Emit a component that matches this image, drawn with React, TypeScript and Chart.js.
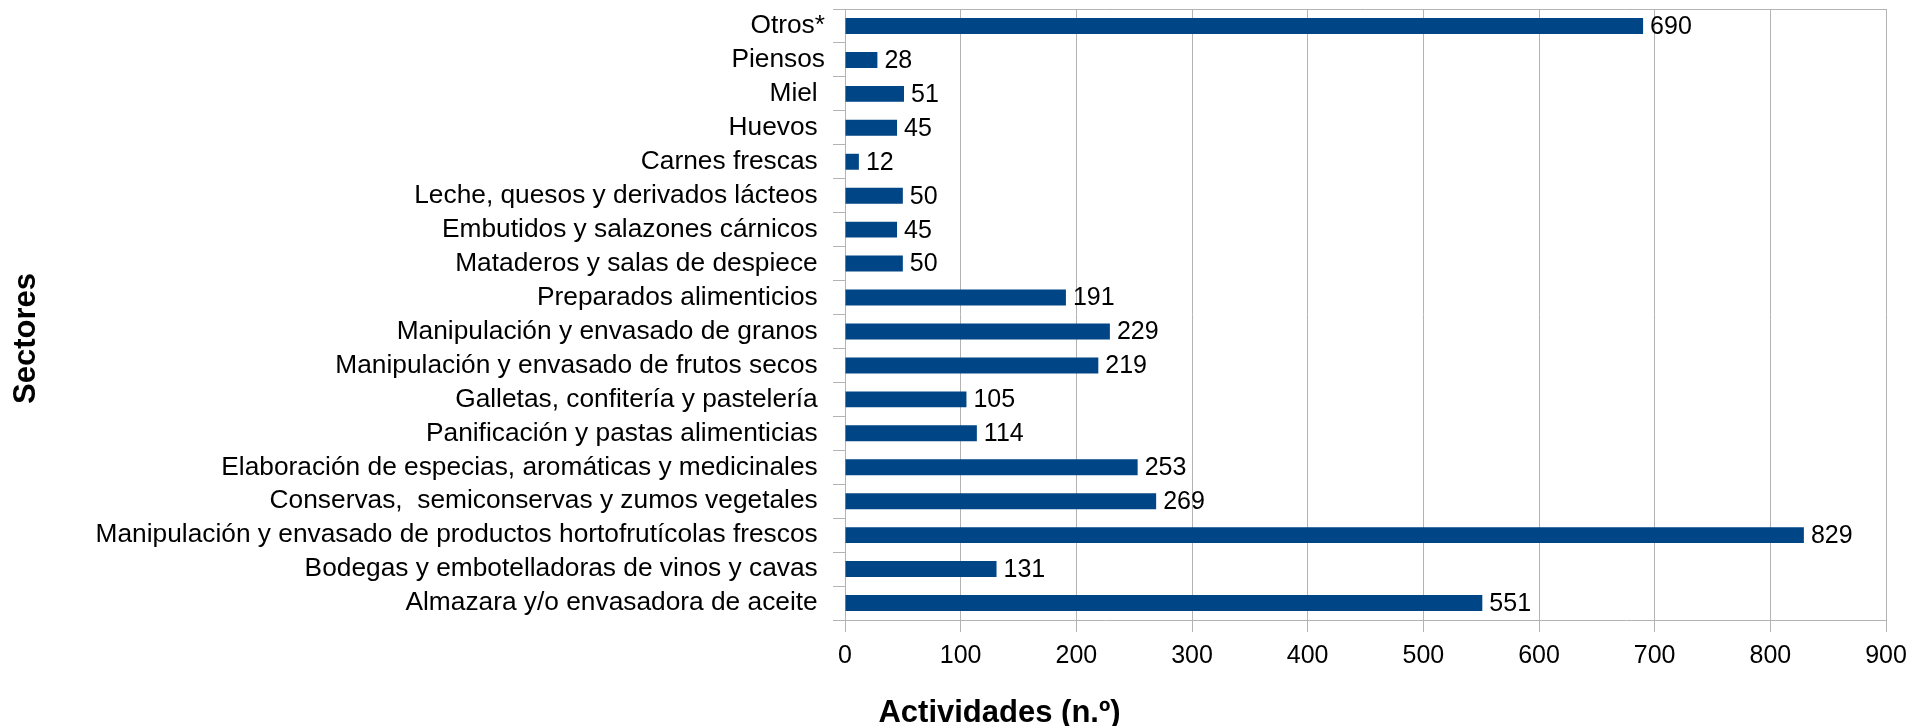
import React, { useEffect, useRef } from "react";
import { Chart, registerables } from "chart.js";

Chart.register(...registerables);

const categories = [
  "Otros*",
  "Piensos",
  "Miel ",
  "Huevos ",
  "Carnes frescas ",
  "Leche, quesos y derivados lácteos ",
  "Embutidos y salazones cárnicos ",
  "Mataderos y salas de despiece ",
  "Preparados alimenticios ",
  "Manipulación y envasado de granos ",
  "Manipulación y envasado de frutos secos ",
  "Galletas, confitería y pastelería ",
  "Panificación y pastas alimenticias ",
  "Elaboración de especias, aromáticas y medicinales ",
  "Conservas,  semiconservas y zumos vegetales ",
  "Manipulación y envasado de productos hortofrutícolas frescos ",
  "Bodegas y embotelladoras de vinos y cavas ",
  "Almazara y/o envasadora de aceite ",
];

const values = [690, 28, 51, 45, 12, 50, 45, 50, 191, 229, 219, 105, 114, 253, 269, 829, 131, 551];

const xMin = 0;
const xMax = 900;
const xStep = 100;

const xTitle = "Actividades (n.º)";
const yTitle = "Sectores";

const FONT = "'Liberation Sans', Arial, sans-serif";
const GRID = "#b3b3b3";
const BAR = "#004586";

export default function App() {
  const ref = useRef<HTMLCanvasElement | null>(null);

  useEffect(() => {
    document.body.style.margin = "0";
    const canvas = ref.current;
    if (!canvas) return;

    const extras = {
      id: "extras",
      beforeDatasetsDraw(chart: any) {
        const { ctx, chartArea } = chart;
        ctx.save();
        ctx.strokeStyle = GRID;
        ctx.lineWidth = 1;
        ctx.beginPath();
        const y = Math.round(chartArea.top) + 0.5;
        ctx.moveTo(chartArea.left, y);
        ctx.lineTo(chartArea.right, y);
        ctx.stroke();
        ctx.restore();
      },
      afterDatasetsDraw(chart: any) {
        const { ctx } = chart;
        const meta = chart.getDatasetMeta(0);
        ctx.save();
        ctx.fillStyle = "#000";
        ctx.font = `25px ${FONT}`;
        ctx.textAlign = "left";
        ctx.textBaseline = "middle";
        meta.data.forEach((bar: any, i: number) => {
          ctx.fillText(String(values[i]), bar.x + 7, bar.y + 1);
        });
        ctx.restore();
      },
      afterDraw(chart: any) {
        const { ctx } = chart;
        ctx.save();
        ctx.fillStyle = "#000";
        ctx.font = `bold 31px ${FONT}`;
        ctx.textAlign = "center";
        ctx.textBaseline = "alphabetic";
        ctx.fillText(xTitle, 999.5, 722);
        ctx.translate(35, 338.5);
        ctx.rotate(-Math.PI / 2);
        ctx.fillText(yTitle, 0, 0);
        ctx.restore();
      },
    };

    const chart = new Chart(canvas, {
      type: "bar",
      data: {
        labels: categories,
        datasets: [
          {
            data: values,
            backgroundColor: BAR,
            borderWidth: 0,
            categoryPercentage: 1,
            barPercentage: 0.47,
          },
        ],
      },
      options: {
        indexAxis: "y",
        animation: false,
        responsive: false,
        maintainAspectRatio: false,
        events: [],
        layout: { padding: { top: 9, right: 25, left: 0, bottom: 0 } },
        plugins: {
          legend: { display: false },
          tooltip: { enabled: false },
          title: { display: false },
        },
        scales: {
          x: {
            type: "linear",
            min: xMin,
            max: xMax,
            ticks: {
              stepSize: xStep,
              color: "#000",
              font: { family: FONT, size: 25 },
              padding: 9,
            },
            grid: { color: GRID, tickLength: 12, lineWidth: 1 },
            border: { color: GRID, width: 1 },
            afterFit(scale: any) {
              scale.height = 106;
              scale.paddingRight = 0;
              scale.paddingLeft = 0;
            },
          },
          y: {
            type: "category",
            offset: true,
            ticks: {
              color: "#000",
              font: { family: FONT, size: 26.3 },
              padding: 8,
              autoSkip: false,
            },
            grid: {
              color: GRID,
              tickLength: 12,
              drawOnChartArea: false,
              offset: true,
            },
            border: { color: GRID, width: 1 },
            afterFit(scale: any) {
              scale.width = 845;
              scale.paddingTop = 0;
              scale.paddingBottom = 0;
            },
          },
        },
      },
      plugins: [extras],
    } as any);

    return () => chart.destroy();
  }, []);

  return (
    <div style={{ position: "absolute", left: 0, top: 0, width: 1911, height: 726, background: "#fff" }}>
      <canvas ref={ref} width={1911} height={726} style={{ width: 1911, height: 726, display: "block" }} />
    </div>
  );
}
